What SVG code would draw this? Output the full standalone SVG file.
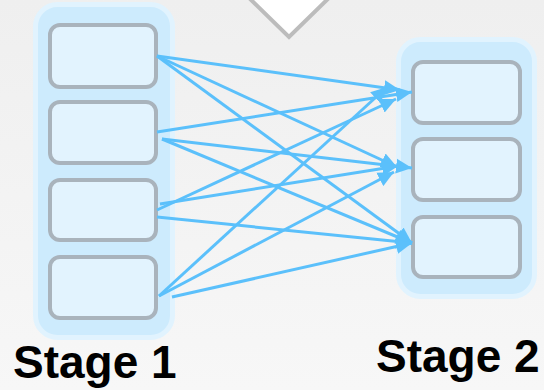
<svg xmlns="http://www.w3.org/2000/svg" width="544" height="390" viewBox="0 0 544 390">
  <defs>
    <linearGradient id="bg" x1="0" y1="0" x2="0" y2="1">
      <stop offset="0" stop-color="#efefef"/>
      <stop offset="1" stop-color="#f7f7f7"/>
    </linearGradient>
    <marker id="arrow" markerUnits="userSpaceOnUse" markerWidth="17" markerHeight="16" refX="16" refY="8" orient="auto">
      <path d="M0,0.5 L16,8 L0,15.5 Z" fill="#5bc0fb"/>
    </marker>
    <style>
      .stage { fill: #cdebfd; stroke: #e1f3fe; stroke-width: 5; }
      .node rect { fill: #e2f3fe; stroke: #a9b3bc; stroke-width: 4; }
      .edge { stroke: #5bc0fb; stroke-width: 3; fill: none; marker-end: url(#arrow); }
      .label { font-family: "Liberation Sans", Arial, sans-serif; font-weight: bold; font-size: 46px; fill: #000; }
    </style>
  </defs>

  <rect width="544" height="390" fill="url(#bg)"/>

  <!-- downward chevron at the top -->
  <polygon points="243,-8 289,37 335,-8" fill="#ffffff" stroke="#bcbcbc" stroke-width="4"/>

  <!-- stage containers -->
  <g id="stage1">
    <rect class="stage" x="35.5" y="4.5" width="137" height="333" rx="22"/>
  </g>
  <g id="stage2">
    <rect class="stage" x="398.5" y="39.5" width="136" height="257" rx="22"/>
  </g>

  <!-- stage 1 nodes -->
  <g id="s1n1" class="node"><rect x="50" y="25" width="106" height="62" rx="10"/></g>
  <g id="s1n2" class="node"><rect x="50" y="102" width="106" height="61" rx="10"/></g>
  <g id="s1n3" class="node"><rect x="50" y="180" width="106" height="60" rx="10"/></g>
  <g id="s1n4" class="node"><rect x="50" y="257" width="106" height="61" rx="10"/></g>

  <!-- stage 2 nodes -->
  <g id="s2n1" class="node"><rect x="413" y="62" width="107" height="61" rx="10"/></g>
  <g id="s2n2" class="node"><rect x="413" y="139" width="107" height="61" rx="10"/></g>
  <g id="s2n3" class="node"><rect x="413" y="217" width="107" height="60" rx="10"/></g>

  <!-- connectors: every stage 1 node to every stage 2 node -->
  <g id="connectors">
    <line class="edge" x1="157" y1="56" x2="400" y2="90"/>
    <line class="edge" x1="157" y1="132" x2="412" y2="92"/>
    <line class="edge" x1="157" y1="210" x2="396" y2="99"/>
    <line class="edge" x1="159" y1="296" x2="387" y2="87"/>

    <line class="edge" x1="157" y1="56" x2="397" y2="167"/>
    <line class="edge" x1="162" y1="139" x2="412" y2="168"/>
    <line class="edge" x1="160" y1="204" x2="398" y2="166"/>
    <line class="edge" x1="159" y1="296" x2="394" y2="172"/>

    <line class="edge" x1="157" y1="56" x2="412" y2="243"/>
    <line class="edge" x1="162" y1="139" x2="412" y2="243"/>
    <line class="edge" x1="157" y1="217" x2="412" y2="243"/>
    <line class="edge" x1="172" y1="297" x2="412" y2="243"/>
  </g>

  <text class="label" x="13" y="378">Stage 1</text>
  <text class="label" x="376" y="372">Stage 2</text>
</svg>
